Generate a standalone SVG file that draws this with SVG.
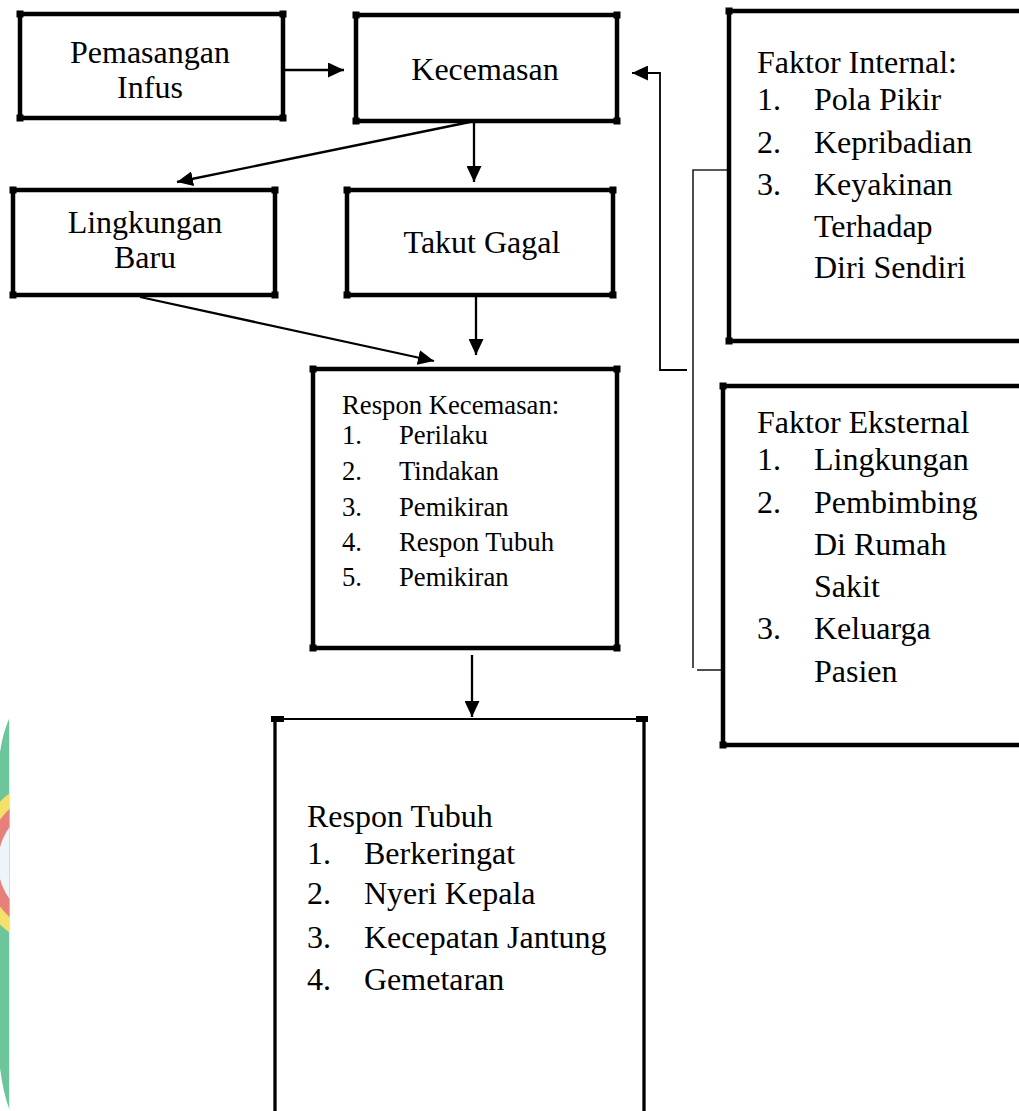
<svg xmlns="http://www.w3.org/2000/svg" width="1019" height="1111" viewBox="0 0 1019 1111">
<defs>
<style>
.box{fill:none;stroke:#000;stroke-width:4.5;}
.cn{fill:#000;}
.t{font-family:"Liberation Serif","Times New Roman",serif;font-size:32px;fill:#000;}
.s{font-family:"Liberation Serif","Times New Roman",serif;font-size:26.7px;fill:#000;}
.mid{text-anchor:middle;}
.ar{fill:none;stroke:#000;stroke-width:2.3;}
.thin{fill:none;stroke:#222;stroke-width:1.6;}
</style>
<marker id="ah" markerUnits="userSpaceOnUse" markerWidth="17" markerHeight="15" refX="16" refY="7.5" orient="auto">
<path d="M0,0 L16,7.5 L0,15 Z" fill="#000"/>
</marker>
<clipPath id="wm"><rect x="0" y="0" width="9.5" height="1111"/></clipPath>
</defs>
<rect width="1019" height="1111" fill="#fff"/>

<g id="watermark" clip-path="url(#wm)">
<path d="M9.5,718 Q3,732 0,752 L0,1068 Q3,1092 9.5,1110 Z" fill="#6cc59b"/>
<circle cx="60" cy="863" r="86" fill="#f3e16a"/>
<circle cx="60" cy="863" r="74" fill="#e77f7b"/>
<circle cx="60" cy="863" r="62" fill="#edf5fa"/>
</g>

<g id="connectors">
<line class="ar" x1="284" y1="70" x2="344" y2="70" marker-end="url(#ah)"/>
<line class="ar" x1="474" y1="122" x2="474" y2="182" marker-end="url(#ah)"/>
<line class="ar" x1="470" y1="122" x2="177" y2="182" marker-end="url(#ah)"/>
<line class="ar" x1="140" y1="297" x2="434" y2="361" marker-end="url(#ah)"/>
<line class="ar" x1="476" y1="297" x2="476" y2="355" marker-end="url(#ah)"/>
<line class="ar" x1="472" y1="655" x2="472" y2="717" marker-end="url(#ah)"/>
<path class="thin" d="M729,170 H693 V668"/>
<path class="thin" d="M697,670 H725"/>
<path class="ar" style="stroke-width:1.8" d="M687,370 H660 V73 H632" marker-end="url(#ah)"/>
</g>

<g id="pemasangan-infus">
<rect class="box" x="20" y="14" width="263" height="104"/>
<rect class="cn" x="16.5" y="10.5" width="7" height="7"/><rect class="cn" x="279.5" y="10.5" width="7" height="7"/>
<rect class="cn" x="16.5" y="114.5" width="7" height="7"/><rect class="cn" x="279.5" y="114.5" width="7" height="7"/>
<text class="t mid" x="150" y="63">Pemasangan</text>
<text class="t mid" x="150" y="98">Infus</text>
</g>

<g id="kecemasan">
<rect class="box" x="356" y="15" width="261" height="106"/>
<rect class="cn" x="352.5" y="11.5" width="7" height="7"/><rect class="cn" x="613.5" y="11.5" width="7" height="7"/>
<rect class="cn" x="352.5" y="117.5" width="7" height="7"/><rect class="cn" x="613.5" y="117.5" width="7" height="7"/>
<text class="t mid" x="485" y="80">Kecemasan</text>
</g>

<g id="lingkungan-baru">
<rect class="box" x="13" y="190" width="262" height="105"/>
<rect class="cn" x="9.5" y="186.5" width="7" height="7"/><rect class="cn" x="271.5" y="186.5" width="7" height="7"/>
<rect class="cn" x="9.5" y="291.5" width="7" height="7"/><rect class="cn" x="271.5" y="291.5" width="7" height="7"/>
<text class="t mid" x="145" y="233">Lingkungan</text>
<text class="t mid" x="145" y="268">Baru</text>
</g>

<g id="takut-gagal">
<rect class="box" x="347" y="190" width="266" height="105"/>
<rect class="cn" x="343.5" y="186.5" width="7" height="7"/><rect class="cn" x="609.5" y="186.5" width="7" height="7"/>
<rect class="cn" x="343.5" y="291.5" width="7" height="7"/><rect class="cn" x="609.5" y="291.5" width="7" height="7"/>
<text class="t mid" x="482" y="253">Takut Gagal</text>
</g>

<g id="respon-kecemasan">
<rect class="box" x="313" y="369" width="304" height="279"/>
<rect class="cn" x="309.5" y="365.5" width="7" height="7"/><rect class="cn" x="613.5" y="365.5" width="7" height="7"/>
<rect class="cn" x="309.5" y="644.5" width="7" height="7"/><rect class="cn" x="613.5" y="644.5" width="7" height="7"/>
<text class="s" x="342" y="414">Respon Kecemasan:</text>
<text class="s" x="342" y="444">1.</text><text class="s" x="399" y="444">Perilaku</text>
<text class="s" x="342" y="480">2.</text><text class="s" x="399" y="480">Tindakan</text>
<text class="s" x="342" y="516">3.</text><text class="s" x="399" y="516">Pemikiran</text>
<text class="s" x="342" y="551">4.</text><text class="s" x="399" y="551">Respon Tubuh</text>
<text class="s" x="342" y="586">5.</text><text class="s" x="399" y="586">Pemikiran</text>
</g>

<g id="respon-tubuh">
<path fill="none" stroke="#000" stroke-width="2" d="M274,719 H644"/>
<path fill="none" stroke="#000" stroke-width="3.3" d="M275,719 V1115 M644,719 V1115"/>
<rect class="cn" x="271" y="716" width="13" height="6"/>
<rect class="cn" x="636" y="716" width="12" height="6"/>
<text class="t" x="307" y="827">Respon Tubuh</text>
<text class="t" x="307" y="864">1.</text><text class="t" x="364" y="864">Berkeringat</text>
<text class="t" x="307" y="904">2.</text><text class="t" x="364" y="904">Nyeri Kepala</text>
<text class="t" x="307" y="948">3.</text><text class="t" x="364" y="948">Kecepatan Jantung</text>
<text class="t" x="307" y="990">4.</text><text class="t" x="364" y="990">Gemetaran</text>
</g>

<g id="faktor-internal">
<path class="box" d="M1025,11 H729 V341 H1025"/>
<rect class="cn" x="725.5" y="7.5" width="7" height="7"/>
<rect class="cn" x="725.5" y="337.5" width="7" height="7"/>
<text class="t" x="757" y="73">Faktor Internal:</text>
<text class="t" x="757" y="110">1.</text><text class="t" x="814" y="110">Pola Pikir</text>
<text class="t" x="757" y="153">2.</text><text class="t" x="814" y="153">Kepribadian</text>
<text class="t" x="757" y="195">3.</text><text class="t" x="814" y="195">Keyakinan</text>
<text class="t" x="814" y="237">Terhadap</text>
<text class="t" x="814" y="278">Diri Sendiri</text>
</g>

<g id="faktor-eksternal">
<path class="box" d="M1025,386 H723 V745 H1025"/>
<rect class="cn" x="719.5" y="382.5" width="7" height="7"/>
<rect class="cn" x="719.5" y="741.5" width="7" height="7"/>
<text class="t" x="757" y="433">Faktor Eksternal</text>
<text class="t" x="757" y="470">1.</text><text class="t" x="814" y="470">Lingkungan</text>
<text class="t" x="757" y="513">2.</text><text class="t" x="814" y="513">Pembimbing</text>
<text class="t" x="814" y="555">Di Rumah</text>
<text class="t" x="814" y="597">Sakit</text>
<text class="t" x="757" y="639">3.</text><text class="t" x="814" y="639">Keluarga</text>
<text class="t" x="814" y="682">Pasien</text>
</g>
</svg>
